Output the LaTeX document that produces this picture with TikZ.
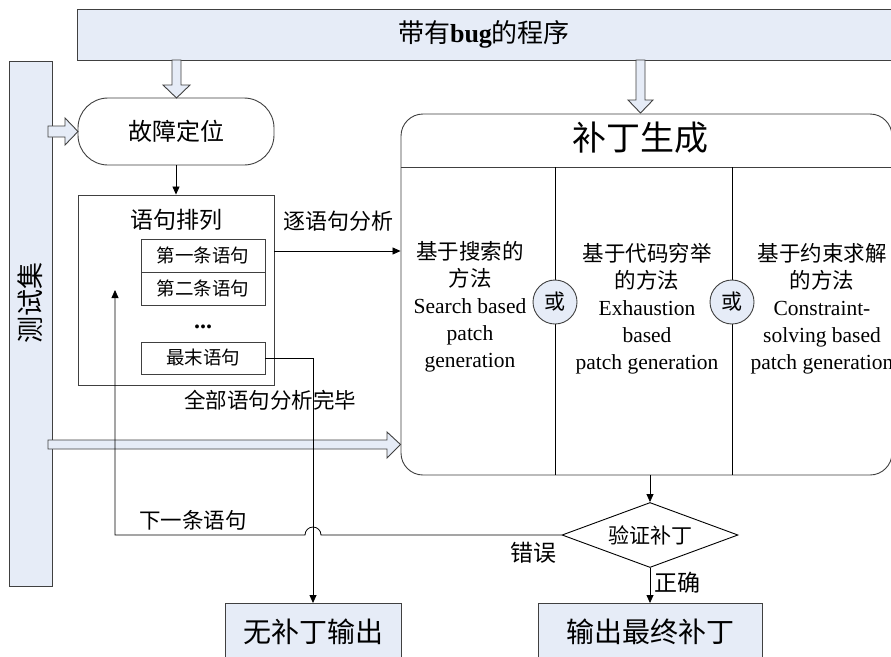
\documentclass[tikz,border=0pt]{standalone}
\usepackage{fontspec}
\setmainfont{Liberation Serif}
\newfontfamily\cjk{Noto Sans CJK SC}
\usetikzlibrary{arrows.meta,shapes.geometric,calc}
\definecolor{lb}{RGB}{230,236,247}
\definecolor{bd}{RGB}{64,64,64}
\begin{document}
\begin{tikzpicture}[x=1pt,y=-1pt,
  fs/.style={font=\cjk\fontsize{#1}{#1}\selectfont},
  box/.style={draw=bd, line width=0.9pt, inner sep=0pt},
  bluefill/.style={fill=lb},
  arr/.style={-{Triangle[length=8pt,width=7pt]}, line width=0.8pt},
  hollow/.style={draw=bd, fill=lb, line width=0.9pt, line join=miter},
  coltext/.style={align=center, font=\fontsize{21.5}{27}\selectfont},
]
\useasboundingbox (0,0) rectangle (891,656);
\fill[white] (0,0) rectangle (891,656);

% banner and test set bar
\node[box,bluefill,minimum width=830pt,minimum height=51pt,anchor=north west] (bug) at (77,9) {};
\node[font=\fontsize{26}{26}\selectfont] (bugt) at (484,34) {{\cjk 带有}\textbf{bug}{\cjk 的程序}};
\node[box,bluefill,minimum width=43pt,minimum height=525pt,anchor=north west] (test) at (9,61) {};
\node[rotate=90,fs=27] (testt) at (30.5,303) {测试集};

% fault localisation
\node[box,rounded corners=30pt,minimum width=196pt,minimum height=67pt,fs=24] (loc) at (176,131.5) {故障定位};

% statement list
\node[box,minimum width=196pt,minimum height=190pt] (sbox) at (176,290) {};
\node[fs=23] (sboxt) at (176,220) {语句排列};
\node[box,minimum width=124pt,minimum height=33pt,fs=18.5] (s1) at (203,255.5) {第一条语句};
\node[box,minimum width=124pt,minimum height=33pt,fs=18.5] (s2) at (203,288.5) {第二条语句};
\node[anchor=base,font=\bfseries\fontsize{24}{24}\selectfont] (dots) at (203,328) {...};
\node[box,minimum width=124pt,minimum height=32pt,fs=18.5] (last) at (203,358) {最末语句};

% patch generation
\node[box,rounded corners=22pt,minimum width=491pt,minimum height=361pt] (patch) at (646.5,294.5) {};
\coordinate (hl) at (401,167);
\coordinate (hr) at (892,167);
\draw[bd,line width=0.9pt] (hl) -- (hr);
\coordinate (d1t) at (555,167);
\coordinate (d2t) at (732,167);
\draw[black,line width=0.8pt] (d1t) -- (d1t |- patch.south);
\draw[black,line width=0.8pt] (d2t) -- (d2t |- patch.south);
\node[fs=34] (patcht) at (640,138) {补丁生成};
\node[coltext] (c1) at (470,307) {{\cjk 基于搜索的}\\{\cjk 方法}\\Search based\\patch\\generation};
\node[coltext] (c2) at (647,309) {{\cjk 基于代码穷举}\\{\cjk 的方法}\\Exhaustion\\based\\patch generation};
\node[coltext] (c3) at (822,309) {{\cjk 基于约束求解}\\{\cjk 的方法}\\Constraint-\\solving based\\patch generation};
\node[circle,box,bluefill,minimum size=44pt,fs=21] (or1) at (555,302) {或};
\node[circle,box,bluefill,minimum size=44pt,fs=21] (or2) at (732,302) {或};

% check and outputs
\node[diamond,draw=black,line width=0.9pt,aspect=2.7,minimum width=176pt,minimum height=65pt,inner sep=0pt,fs=21] (chk) at (650,535) {验证补丁};
\node[box,bluefill,minimum width=176pt,minimum height=57pt,anchor=north,fs=28] (noout) at (313,603) {无补丁输出};
\node[box,bluefill,minimum width=224pt,minimum height=57pt,anchor=north,fs=28] (final) at (650,603) {输出最终补丁};

% block arrows
\draw[hollow] (172,60) -- (181,60) -- (181,85) -- (190,85) -- (176.5,98) -- (163,85) -- (172,85) -- cycle;
\draw[hollow] (636,60) -- (645,60) -- (645,100) -- (653,100) -- (640.5,113) -- (628,100) -- (636,100) -- cycle;
\draw[hollow] (48,126) -- (65,126) -- (65,118) -- (78,131.5) -- (65,145) -- (65,137) -- (48,137) -- cycle;
\draw[hollow] (48,440) -- (387,440) -- (387,432) -- (400.5,444.5) -- (387,458) -- (387,449) -- (48,449) -- cycle;

% labels
\node[fs=22] (l1) at (338,221) {逐语句分析};
\node[fs=21.5] (l2) at (270,400) {全部语句分析完毕};
\node[fs=21.5] (l3) at (193,520) {下一条语句};
\node[fs=23] (l4) at (533,553) {错误};
\node[fs=23] (l5) at (677,583) {正确};

% connectors
\draw[arr] (loc.south) -- (sbox.north);
\coordinate (a1) at ([yshift=4.5pt]s1.center);
\draw[arr] (a1 -| sbox.east) -- (a1 -| patch.west);
\draw[arr] (last.east) -| (noout.north);
\draw[arr] (chk.north |- patch.south) -- (chk.north);
\draw[arr] (chk.south) -- (final.north);
\coordinate (j) at (noout.north |- chk.west);
\coordinate (fb) at (115,290);
\draw[arr] (chk.west) -- ([xshift=8pt]j) arc[start angle=0,end angle=180,radius=8pt] -- (fb |- chk.west) -- (fb);
\end{tikzpicture}
\end{document}
